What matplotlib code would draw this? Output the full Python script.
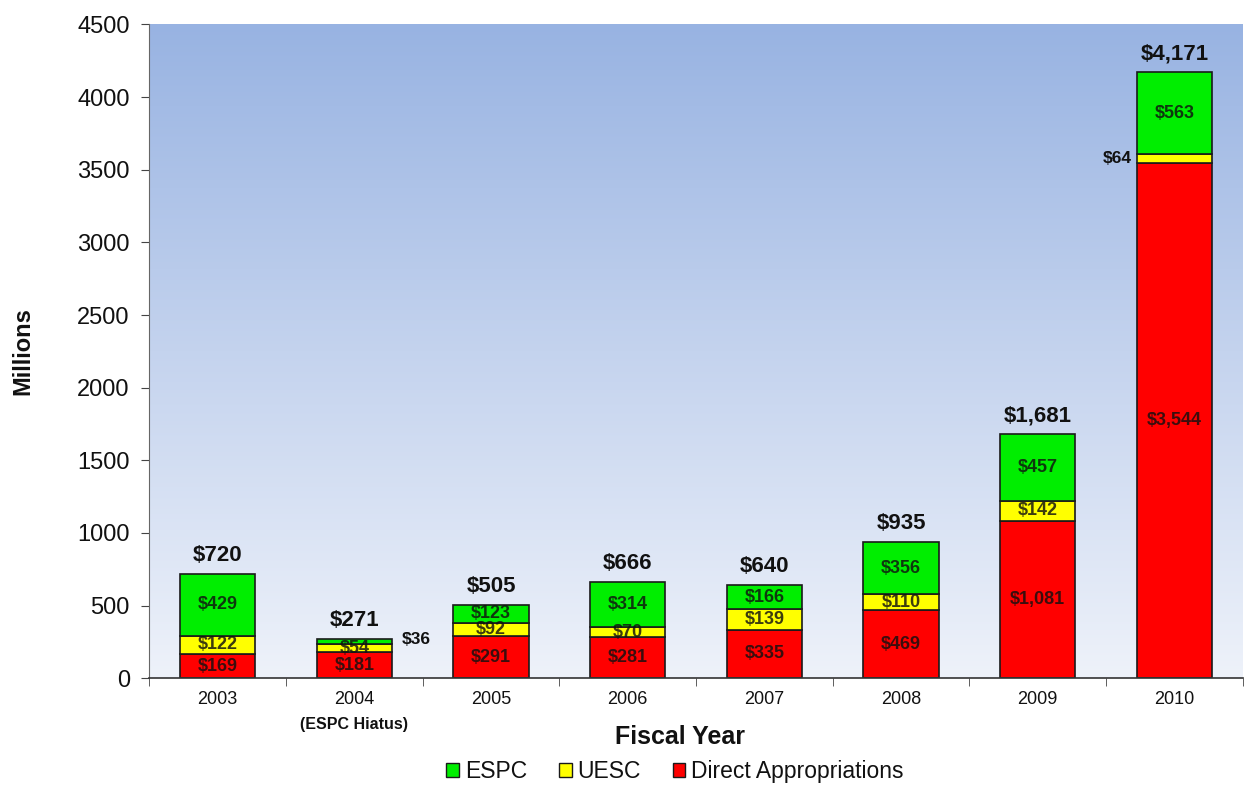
import numpy as np
import matplotlib
matplotlib.use("Agg")
import matplotlib.pyplot as plt
from matplotlib.colors import LinearSegmentedColormap
from matplotlib.patches import Patch

years = ["2003", "2004", "2005", "2006", "2007", "2008", "2009", "2010"]
direct = [169, 181, 291, 281, 335, 469, 1081, 3544]
uesc = [122, 54, 92, 70, 139, 110, 142, 64]
espc = [429, 36, 123, 314, 166, 356, 457, 563]
totals = ["$720", "$271", "$505", "$666", "$640", "$935", "$1,681", "$4,171"]
direct_lbl = ["$169", "$181", "$291", "$281", "$335", "$469", "$1,081", "$3,544"]
uesc_lbl = ["$122", "$54", "$92", "$70", "$139", "$110", "$142", "$64"]
espc_lbl = ["$429", "$36", "$123", "$314", "$166", "$356", "$457", "$563"]

plt.rcParams['font.family'] = ['Liberation Sans', 'DejaVu Sans']

fig = plt.figure(figsize=(12.44, 7.86), dpi=100)
ax = fig.add_axes([0.12, 0.137, 0.879, 0.832])

x = np.arange(len(years))
w = 0.55

# vertical gradient behind the bars
cmap = LinearSegmentedColormap.from_list("bg", ["#eef2fa", "#c4d3ee", "#98b3e2"])
grad = np.linspace(0, 1, 256).reshape(-1, 1)
ax.imshow(grad, cmap=cmap, aspect="auto", origin="lower",
          extent=[-0.5, len(years) - 0.5, 0, 4500], zorder=0)

ec = "#1a1a1a"
ax.bar(x, direct, w, color="#ff0000", edgecolor=ec, linewidth=1.2, zorder=2)
ax.bar(x, uesc, w, bottom=direct, color="#ffff00", edgecolor=ec, linewidth=1.2, zorder=2)
b3 = np.array(direct) + np.array(uesc)
ax.bar(x, espc, w, bottom=b3, color="#00ee00", edgecolor=ec, linewidth=1.2, zorder=2)

txt = "#111111"
lab = dict(ha="center", va="center", fontsize=13, fontweight="bold",
           color=txt, alpha=0.82, zorder=3)
for i in range(len(years)):
    ax.text(x[i], direct[i] / 2, direct_lbl[i], **lab)
    if i == 7:
        ax.text(x[i] - w / 2 - 0.04, direct[i] + uesc[i] / 2, uesc_lbl[i],
                ha="right", va="center", fontsize=12.5, fontweight="bold", color=txt)
    else:
        ax.text(x[i], direct[i] + uesc[i] / 2, uesc_lbl[i], **lab)
    if i == 1:
        ax.text(x[i] + w / 2 + 0.07, 265, espc_lbl[i],
                ha="left", va="center", fontsize=12.5, fontweight="bold", color=txt)
    else:
        ax.text(x[i], b3[i] + espc[i] / 2, espc_lbl[i], **lab)
    top = b3[i] + espc[i]
    ax.text(x[i], top + 55, totals[i], ha="center", va="bottom",
            fontsize=16, fontweight="bold", color=txt)

ax.set_xlim(-0.5, len(years) - 0.5)
ax.set_ylim(0, 4500)
ax.set_yticks(np.arange(0, 4501, 500))
ax.tick_params(axis="y", labelsize=17, length=6, color="#444444", pad=8,
               labelcolor="#111111")
ax.set_xticks(x)
ax.set_xticklabels(years, fontsize=13, color="#111111")
ax.tick_params(axis="x", length=0, pad=9)
ax.set_xticks(np.arange(-0.5, len(years)), minor=True)
ax.tick_params(axis="x", which="minor", length=6, color="#444444")

for s in ["top", "right"]:
    ax.spines[s].set_visible(False)
ax.spines["left"].set_color("#666666")
ax.spines["bottom"].set_color("#333333")
ax.spines["bottom"].set_linewidth(1.2)

ax.text(1, -0.071, "(ESPC Hiatus)", transform=ax.get_xaxis_transform(),
        ha="center", va="center", fontsize=11.5, fontweight="bold", color="#111111")

ax.set_ylabel("Millions", fontsize=17, fontweight="bold", labelpad=31, color="#111111")
ax.set_xlabel("Fiscal Year", fontsize=18, fontweight="bold", color="#111111")
ax.xaxis.set_label_coords(0.485, -0.071)

handles = [Patch(facecolor="#00ee00", edgecolor=ec, label="ESPC"),
           Patch(facecolor="#ffff00", edgecolor=ec, label="UESC"),
           Patch(facecolor="#ff0000", edgecolor=ec, label="Direct Appropriations")]
fig.legend(handles=handles, loc="center", ncol=3, frameon=False,
           fontsize=16.5, bbox_to_anchor=(0.5426, 0.018), handlelength=0.55,
           handleheight=0.55, handletextpad=0.25, columnspacing=1.4,
           labelcolor="#111111", borderpad=0.1)

fig.savefig("out.png", dpi=100)
